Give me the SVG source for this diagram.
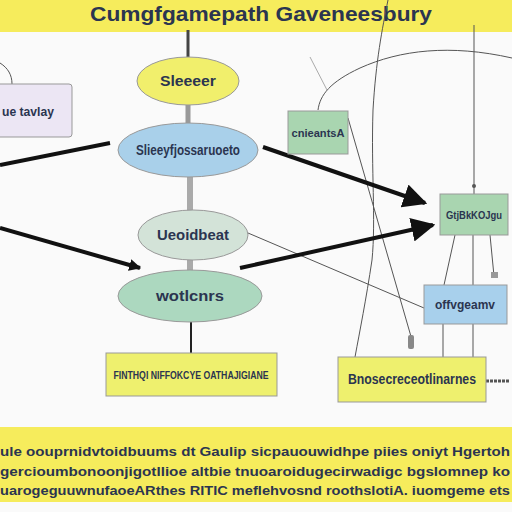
<svg xmlns="http://www.w3.org/2000/svg" width="512" height="512" viewBox="0 0 512 512">
<defs>
<style>
.t{font-family:"Liberation Sans",Arial,sans-serif;font-weight:bold;fill:#2b3550}
.thin{fill:none;stroke:#555;stroke-width:1}
.arr{fill:none;stroke:#111;stroke-width:4}
.nb{stroke:#999;stroke-width:1}
</style>
<marker id="big" viewBox="0 0 10 10" refX="9" refY="5" markerWidth="6" markerHeight="6" markerUnits="strokeWidth" orient="auto"><path d="M0,0 L10,5 L0,10 z" fill="#111"/></marker>
<marker id="sm" viewBox="0 0 10 10" refX="9" refY="5" markerWidth="3" markerHeight="3" markerUnits="strokeWidth" orient="auto"><path d="M0,0 L10,5 L0,10 z" fill="#111"/></marker>
</defs>
<rect width="512" height="512" fill="#fafafa"/>
<g id="header">
<rect x="0" y="0" width="512" height="32" fill="#f6ec5c"/>
<text class="t" x="90" y="21" font-size="21" textLength="342" lengthAdjust="spacingAndGlyphs" fill="#1f2a55">Cumgfgamepath Gaveneesbury</text>
</g>
<g id="connectors">
<path class="thin" d="M388,0 C382,30 376,60 373,110 C371,170 376,220 372,260 C366,300 360,330 355,357"/>
<path class="thin" d="M348,118 L412,340"/>
<rect x="408" y="335" width="6" height="14" rx="2" fill="#888"/>
<path class="thin" d="M318,110 C320,95 330,82 360,68 C400,50 450,44 512,58"/>
<path d="M310,57 L327,90" stroke="#aaa" stroke-width="1"/>
<path class="thin" d="M474,25 L474,194"/>
<circle cx="474" cy="186" r="2" fill="#555"/>
<path class="thin" d="M455,235 L444,285"/>
<path class="thin" d="M473,235 L473,285"/>
<path class="thin" d="M490,235 L494,276"/>
<rect x="491" y="272" width="7" height="6" fill="#999"/>
<path class="thin" d="M443,324 L443,357 M473,324 L473,357"/>
<path class="thin" d="M248,233 L424,308"/>
<path class="thin" d="M0,63 C8,68 12,75 12,84"/>
<path d="M188,30 L188,57" stroke="#444" stroke-width="3"/>
<path d="M188,105 L188,123" stroke="#999" stroke-width="5"/>
<path d="M190,177 L190,212" stroke="#aaa" stroke-width="6"/>
<path d="M190,260 L190,271" stroke="#aaa" stroke-width="6"/>
<path d="M191,322 L191,353" stroke="#222" stroke-width="2"/>
<path class="arr" d="M0,165 L110,143"/>
<path class="arr" d="M0,228 L140,268" marker-end="url(#sm)"/>
<path class="arr" d="M263,147 L425,203" marker-end="url(#big)"/>
<path class="arr" d="M240,268 L433,225" marker-end="url(#big)"/>
<path d="M486,381 L510,381" stroke="#555" stroke-width="3" stroke-dasharray="3,1"/>
</g>
<g id="n-left">
<rect x="-4" y="84" width="76" height="53" rx="3" fill="#ece6f4" class="nb"/>
<text class="t" x="2" y="116" font-size="13" textLength="52" lengthAdjust="spacingAndGlyphs">ue tavlay</text>
</g>
<g id="n-e1">
<ellipse cx="188" cy="81" rx="51" ry="24" fill="#f1ef6c" class="nb"/>
<text class="t" x="188" y="86" font-size="14" text-anchor="middle" textLength="56" lengthAdjust="spacingAndGlyphs">Sleeeer</text>
</g>
<g id="n-e2">
<ellipse cx="188" cy="150" rx="70" ry="27" fill="#a9d0ea" class="nb"/>
<text class="t" x="188" y="155" font-size="14" text-anchor="middle" textLength="104" lengthAdjust="spacingAndGlyphs">Slieeyfjossaruoeto</text>
</g>
<g id="n-e3">
<ellipse cx="193" cy="235" rx="55" ry="25" fill="#d3e3d8" class="nb"/>
<text class="t" x="193" y="240" font-size="14" text-anchor="middle" textLength="72" lengthAdjust="spacingAndGlyphs">Ueoidbeat</text>
</g>
<g id="n-e4">
<ellipse cx="190" cy="296" rx="72" ry="26" fill="#acd8bf" class="nb"/>
<text class="t" x="190" y="301" font-size="14" text-anchor="middle" textLength="68" lengthAdjust="spacingAndGlyphs">wotlcnrs</text>
</g>
<g id="n-y1">
<rect x="106" y="353" width="171" height="43" fill="#eef06e" class="nb"/>
<text class="t" x="191" y="379" font-size="11" text-anchor="middle" textLength="155" lengthAdjust="spacingAndGlyphs">FINTHQI NIFFOKCYE OATHAJIGIANE</text>
</g>
<g id="n-g1">
<rect x="288" y="111" width="60" height="43" fill="#a9d5b0" class="nb"/>
<text class="t" x="318" y="137" font-size="11" text-anchor="middle" textLength="53" lengthAdjust="spacingAndGlyphs">cnieantsA</text>
</g>
<g id="n-g2">
<rect x="440" y="194" width="68" height="41" fill="#a9d5b0" class="nb"/>
<text class="t" x="474" y="219" font-size="11" text-anchor="middle" textLength="56" lengthAdjust="spacingAndGlyphs">GtjBkKOJgu</text>
</g>
<g id="n-b1">
<rect x="424" y="285" width="83" height="39" fill="#a8d0ec" class="nb"/>
<text class="t" x="465" y="309" font-size="12" text-anchor="middle" textLength="60" lengthAdjust="spacingAndGlyphs">offvgeamv</text>
</g>
<g id="n-y2">
<rect x="338" y="357" width="148" height="45" fill="#eef06e" class="nb"/>
<text class="t" x="412" y="384" font-size="14" text-anchor="middle" textLength="128" lengthAdjust="spacingAndGlyphs">Bnosecreceotlinarnes</text>
</g>
<g id="footer">
<rect x="0" y="427" width="512" height="75" fill="#f6ec5c"/>
<text class="t" x="0" y="456" font-size="13" textLength="510" lengthAdjust="spacingAndGlyphs">ule oouprnidvtoidbuums dt Gaulip  sicpauouwidhpe piies oniyt Hgertoh</text>
<text class="t" x="0" y="476" font-size="13" textLength="510" lengthAdjust="spacingAndGlyphs">gercioumbonoonjigotllioe altbie  tnuoaroidugecirwadigc bgslomnep ko</text>
<text class="t" x="0" y="495" font-size="13" textLength="510" lengthAdjust="spacingAndGlyphs">uarogeguuwnufaoeARthes RITIC meflehvosnd roothslotiA. iuomgeme ets</text>
</g>
</svg>
